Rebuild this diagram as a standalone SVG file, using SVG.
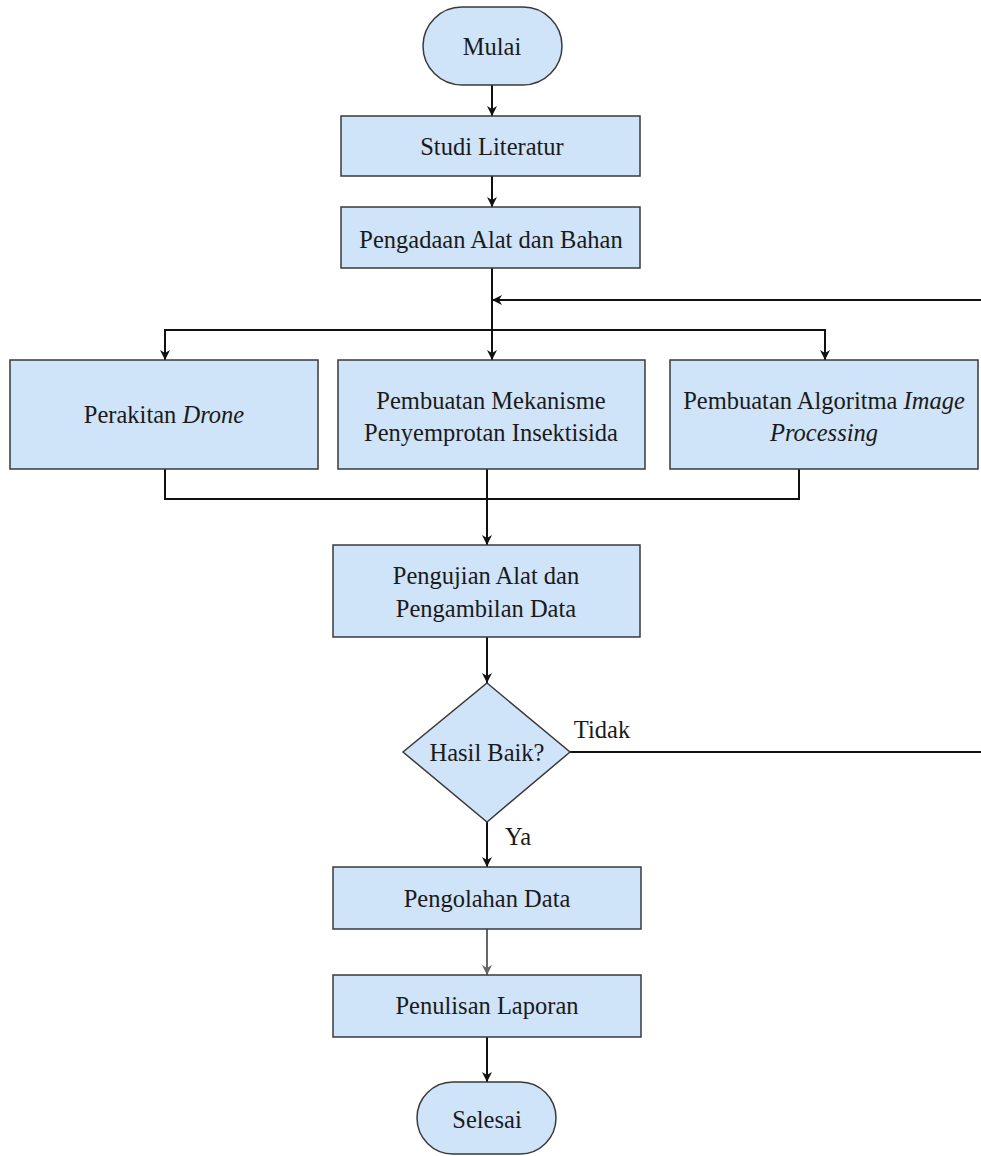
<svg xmlns="http://www.w3.org/2000/svg" width="981" height="1156" viewBox="0 0 981 1156" font-family="'Liberation Serif', 'DejaVu Serif', serif">
<defs>
<style>
.n{fill:#cfe3f9;stroke:#3a3a3a;stroke-width:1.5}
.t{font-family:'Liberation Serif','DejaVu Serif',serif;font-size:24.5px;fill:#1a1a1a;text-anchor:middle}
.c{fill:none;stroke:#111;stroke-width:2}
.g{fill:none;stroke:#666;stroke-width:2}
</style>
<marker id="ah" viewBox="0 0 10 10" refX="10" refY="5" markerWidth="10" markerHeight="10" markerUnits="userSpaceOnUse" orient="auto">
<path d="M0,0 L10,5 L0,10 L3,5 Z" fill="#111"/>
</marker>
<marker id="ahg" viewBox="0 0 10 10" refX="10" refY="5" markerWidth="10" markerHeight="10" markerUnits="userSpaceOnUse" orient="auto">
<path d="M0,0 L10,5 L0,10 L3,5 Z" fill="#666"/>
</marker>
</defs>
<rect width="981" height="1156" fill="#ffffff"/>
<g id="connectors">
<path class="c" d="M492,85 L492,116" marker-end="url(#ah)"/>
<path class="c" d="M492,176 L492,207" marker-end="url(#ah)"/>
<path class="c" d="M492,268 L492,360" marker-end="url(#ah)"/>
<path class="c" d="M492,330 L165,330 L165,360" marker-end="url(#ah)"/>
<path class="c" d="M492,330 L825,330 L825,360" marker-end="url(#ah)"/>
<path class="c" d="M165,469 L165,499 L799,499 L799,469"/>
<path class="c" d="M487,469 L487,545" marker-end="url(#ah)"/>
<path class="c" d="M487,637 L487,683" marker-end="url(#ah)"/>
<path class="c" d="M570,752 L990,752 L990,300 L492,300" marker-end="url(#ah)"/>
<path class="c" d="M487,822 L487,867" marker-end="url(#ah)"/>
<path class="g" d="M487,929 L487,975" marker-end="url(#ahg)"/>
<path class="c" d="M487,1037 L487,1082" marker-end="url(#ah)"/>
<text class="t" x="602" y="738">Tidak</text>
<text class="t" x="518" y="845">Ya</text>
</g>
<g id="mulai">
<rect class="n" x="423" y="7" width="139" height="78" rx="39" ry="39"/>
<text class="t" x="492" y="55">Mulai</text>
</g>
<g id="studi">
<rect class="n" x="341" y="116" width="299" height="60"/>
<text class="t" x="492" y="155">Studi Literatur</text>
</g>
<g id="pengadaan">
<rect class="n" x="341" y="207" width="299" height="61"/>
<text class="t" x="491" y="248">Pengadaan Alat dan Bahan</text>
</g>
<g id="perakitan">
<rect class="n" x="10" y="360" width="308" height="109"/>
<text class="t" x="164" y="423">Perakitan <tspan font-style="italic">Drone</tspan></text>
</g>
<g id="mekanisme">
<rect class="n" x="338" y="360" width="307" height="109"/>
<text class="t" x="491" y="409">Pembuatan Mekanisme</text>
<text class="t" x="491" y="441">Penyemprotan Insektisida</text>
</g>
<g id="algoritma">
<rect class="n" x="670" y="360" width="308" height="109"/>
<text class="t" x="824" y="409">Pembuatan Algoritma <tspan font-style="italic">Image</tspan></text>
<text class="t" x="824" y="441" font-style="italic">Processing</text>
</g>
<g id="pengujian">
<rect class="n" x="333" y="545" width="307" height="92"/>
<text class="t" x="486" y="584">Pengujian Alat dan</text>
<text class="t" x="486" y="617">Pengambilan Data</text>
</g>
<g id="hasil">
<polygon class="n" points="487,683 570,752 487,822 403,752"/>
<text class="t" x="487" y="761">Hasil Baik?</text>
</g>
<g id="pengolahan">
<rect class="n" x="333" y="867" width="308" height="62"/>
<text class="t" x="487" y="907">Pengolahan Data</text>
</g>
<g id="penulisan">
<rect class="n" x="333" y="975" width="308" height="62"/>
<text class="t" x="487" y="1014">Penulisan Laporan</text>
</g>
<g id="selesai">
<rect class="n" x="417" y="1082" width="139" height="72" rx="36" ry="36"/>
<text class="t" x="487" y="1128">Selesai</text>
</g>
</svg>
